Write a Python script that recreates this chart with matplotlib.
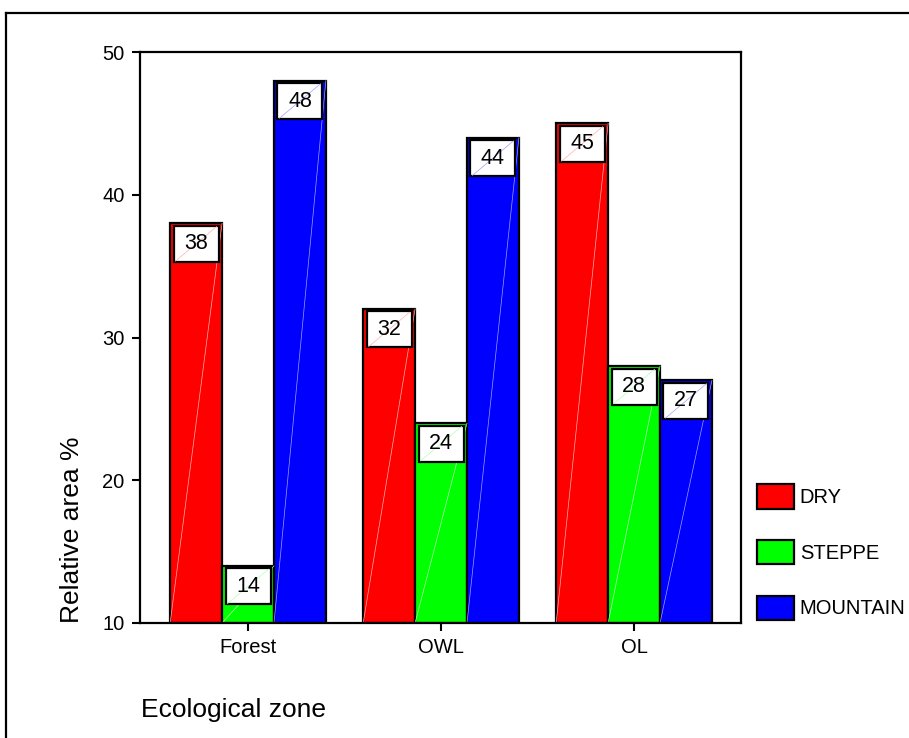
import matplotlib
matplotlib.use("Agg")
import matplotlib.pyplot as plt
from matplotlib.patches import Rectangle
from matplotlib.lines import Line2D
import numpy as np

plt.rcParams['font.family'] = ['Liberation Sans', 'DejaVu Sans']

categories = ["Forest", "OWL", "OL"]
series_names = ["DRY", "STEPPE", "MOUNTAIN"]
dry = [38, 32, 45]
steppe = [14, 24, 28]
mountain = [48, 44, 27]
series_values = [dry, steppe, mountain]
colors = ["#FF0000", "#00FF00", "#0000FF"]
diag_colors = ["#FFB0B0", "#B0FFB0", "#A0A0FF"]
y_ticks = [10, 20, 30, 40, 50]
y_min, y_max = 10, 50

fig = plt.figure(figsize=(9.09, 7.38), dpi=100)
W, H = 909, 738
ax = fig.add_axes([140 / W, 1 - 623 / H, (741 - 140) / W, (623 - 52) / H])

x = np.arange(len(categories))
bw = 0.269
px_per_unit_y = (623 - 52) / (y_max - y_min)
px_per_unit_x = 193.0
box_w = 45 / px_per_unit_x
box_h = 36 / px_per_unit_y
box_gap = 2.5 / px_per_unit_y

for i, (name, vals, c, dc) in enumerate(zip(series_names, series_values, colors, diag_colors)):
    xs = x + (i - 1) * bw
    ax.bar(xs, np.array(vals) - y_min, bottom=y_min, width=bw, color=c,
           edgecolor="black", linewidth=1.6, label=name, zorder=2)
    for xc, v in zip(xs, vals):
        ax.plot([xc - bw / 2, xc + bw / 2], [y_min, v], color=dc, lw=0.5, zorder=2.5)
        top = v - box_gap
        ax.add_patch(Rectangle((xc - box_w / 2, top - box_h), box_w, box_h,
                               facecolor="white", edgecolor="black", linewidth=1.6, zorder=3))
        ax.plot([xc - box_w / 2 + 0.01, xc + box_w / 2 - 0.01],
                [top - box_h + 0.05, top - 0.05], color=dc, lw=0.5, zorder=3.2)
        ax.text(xc, top - box_h / 2, f"{v}", ha="center", va="center",
                fontsize=15.5, zorder=4)

ax.set_xlim(-0.5596, 2.554)
ax.set_ylim(y_min, y_max)
ax.set_xticks(x)
ax.set_xticklabels(categories, fontsize=14.5)
ax.set_yticks(y_ticks)
ax.set_yticklabels([str(t) for t in y_ticks], fontsize=14.5)
ax.tick_params(axis="both", direction="out", length=6, width=1.5, pad=5)
for s in ax.spines.values():
    s.set_linewidth(1.6)

fig.text(72 / W, 1 - 530 / H, "Relative area %", rotation=90, ha="center",
         va="center", fontsize=19)
fig.text(141 / W, 1 - 717 / H, "Ecological zone", ha="left", va="baseline",
         fontsize=19)

leg = ax.legend(loc="upper left", bbox_to_anchor=(757 / W, 1 - 484 / H),
                bbox_transform=fig.transFigure, frameon=False, fontsize=14.5,
                handlelength=1.84, handleheight=1.5, handletextpad=0.28,
                labelspacing=1.55, borderpad=0, borderaxespad=0)
for p in leg.get_patches():
    p.set_linewidth(1.6)

fig.add_artist(Line2D([5.5 / W, 5.5 / W], [0, 1 - 13 / H], color="black",
                      lw=1.6, transform=fig.transFigure))
fig.add_artist(Line2D([5.5 / W, 1], [1 - 13 / H, 1 - 13 / H], color="black",
                      lw=1.6, transform=fig.transFigure))

fig.savefig("out.png", dpi=100)
